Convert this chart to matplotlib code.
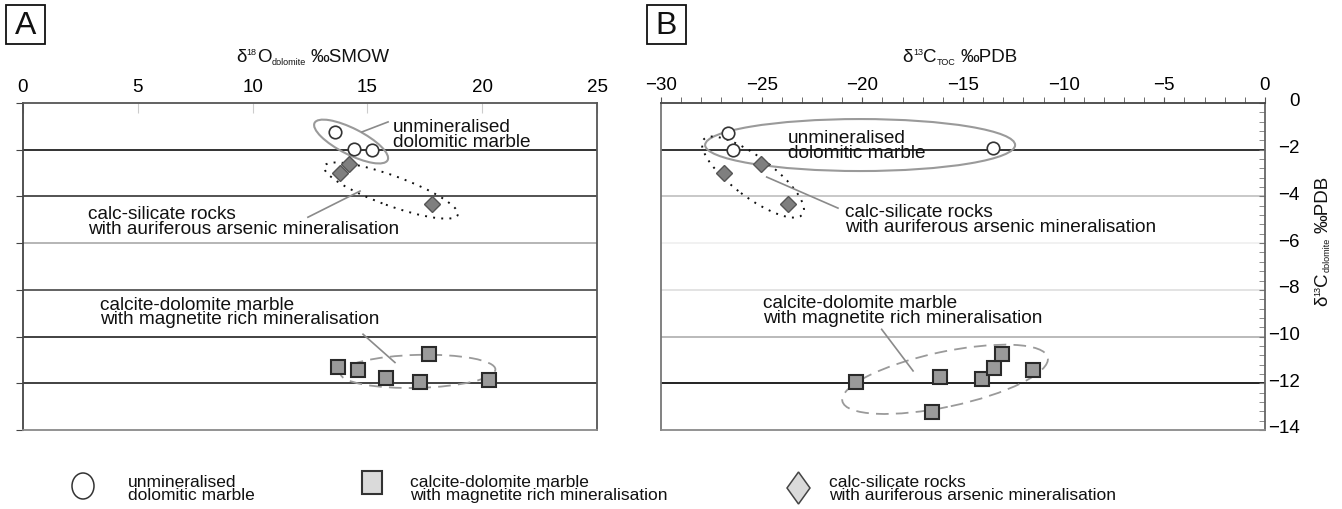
import matplotlib
matplotlib.use('Agg')
import matplotlib.pyplot as plt
from matplotlib.patches import Ellipse, Rectangle, Polygon
from matplotlib.transforms import ScaledTranslation
from matplotlib.ticker import MultipleLocator

plt.rcParams['font.family'] = ['Liberation Sans', 'DejaVu Sans']

# unmineralised dolomitic marble
unm_d18o = [13.6, 14.4, 15.2]
unm_d13c_toc = [-26.66, -26.44, -13.53]
unm_d13c_dol_a = [-1.26, -1.97, -2.02]
unm_d13c_dol_b = [-1.29, -2.02, -1.93]

# calc-silicate rocks with auriferous arsenic mineralisation
cs_d18o = [14.22, 13.79, 17.82]
cs_d13c_toc = [-25.05, -26.86, -23.68]
cs_d13c_dol = [-2.62, -3.0, -4.33]

# calcite-dolomite marble with magnetite rich mineralisation
mag_d18o = [13.70, 14.60, 15.79, 17.70, 17.31, 20.30]
mag_d13c_dol_a = [-11.32, -11.45, -11.76, -10.74, -11.96, -11.86]
mag_d13c_toc = [-20.33, -16.14, -14.05, -13.44, -13.04, -11.53, -16.54]
mag_d13c_dol_b = [-11.94, -11.73, -11.83, -11.33, -10.73, -11.43, -13.23]

grid_levels = [-2, -4, -6, -8, -10, -12]
grid_colors_a = ['#222222', '#444444', '#b0b0b0', '#555555', '#333333', '#333333']
grid_colors_b = ['#222222', '#c4c4c4', '#f0f0f0', '#e0e0e0', '#b4b4b4', '#111111']

lbl_unm = 'unmineralised\ndolomitic marble'
lbl_cs = 'calc-silicate rocks\nwith auriferous arsenic mineralisation'
lbl_mag = 'calcite-dolomite marble\nwith magnetite rich mineralisation'

fig = plt.figure(figsize=(13.42, 5.10), dpi=100)
W, H = 1342, 510
renderer = fig.canvas.get_renderer()


def px_axes(l, t, r, b):
    return fig.add_axes([l / W, 1 - b / H, (r - l) / W, (b - t) / H])


def ring(ax, x, y, w, h, ang, **kw):
    # ellipse sized in pixels, centred on a data point
    tr = fig.dpi_scale_trans + ScaledTranslation(x, y, ax.transData)
    ax.add_patch(Ellipse((0, 0), w / 100, h / 100, angle=ang, transform=tr,
                         fill=False, zorder=2, **kw))


def points(ax, xs, ys, kind):
    if kind == 'o':
        ax.plot(xs, ys, 'o', ms=9.0, mfc='white', mec='#333333', mew=1.2, zorder=4)
    elif kind == 's':
        ax.plot(xs, ys, 's', ms=9.4, mfc='#9a9a9a', mec='#2a2a2a', mew=1.5, zorder=4)
    else:
        ax.plot(xs, ys, 'D', ms=8.2, mfc='#7f7f7f', mec='#555555', mew=1.0, zorder=4)


def rich(x, y, parts, rot=0):
    """Axis title built from pieces (text, size, rise); a bare number is a gap in px.
    x, y: pixel centre of the run (baseline position across the run)."""
    sizes = []
    for p in parts:
        if isinstance(p, (int, float)):
            sizes.append(p)
        else:
            t = fig.text(0, 0, p[0], fontsize=p[1])
            sizes.append(t.get_window_extent(renderer=renderer).width)
            t.remove()
    pos = -sum(sizes) / 2
    for p, w in zip(parts, sizes):
        if not isinstance(p, (int, float)):
            s, fs, rise = p
            if rot == 0:
                fx, fy = x + pos, y - rise
            else:
                fx, fy = x - rise, y - pos
            fig.text(fx / W, 1 - fy / H, s, fontsize=fs, rotation=rot,
                     rotation_mode='anchor', ha='left', va='baseline', color='#111111')
        pos += w


solid = dict(color='#9a9a9a', lw=1.5)
dotted = dict(color='#111111', lw=1.4, ls=(0, (1, 3.2)))
dashed = dict(color='#9a9a9a', lw=1.3, ls=(0, (7, 4)))
lead = dict(color='#8a8a8a', lw=1.2, zorder=3)
txt = dict(fontsize=13.7, va='center', ha='left', linespacing=0.82, color='#111111')

# ---- panel A: d13C dolomite vs d18O dolomite
axA = px_axes(23, 104, 597, 431)
axA.set_xlim(0, 25)
axA.set_ylim(-14, 0)
for lev, c in zip(grid_levels, grid_colors_a):
    axA.axhline(lev, color=c, lw=1.3, zorder=1)
axA.xaxis.tick_top()
axA.xaxis.set_major_locator(MultipleLocator(5))
axA.tick_params(axis='x', direction='in', length=7, color='#cccccc',
                labelsize=13.5, pad=5.5)
axA.yaxis.set_major_locator(MultipleLocator(2))
axA.tick_params(axis='y', direction='out', length=5, color='#444444',
                labelleft=False)
for side, c in zip(['top', 'bottom', 'left', 'right'],
                   ['#555555', '#8a8a8a', '#444444', '#555555']):
    axA.spines[side].set_color(c)
    axA.spines[side].set_linewidth(1.3)

ring(axA, 14.29, -1.65, 82, 26, -27, **solid)
ring(axA, 16.03, -3.75, 142, 30, -20, **dotted)
ring(axA, 17.20, -11.49, 155, 33, 1.5, **dashed)
points(axA, unm_d18o, unm_d13c_dol_a, 'o')
points(axA, cs_d18o, cs_d13c_dol, 'D')
points(axA, mag_d18o, mag_d13c_dol_a, 's')

axA.plot([14.76, 15.90], [-1.24, -0.81], **lead)
axA.plot([14.68, 12.41], [-3.77, -4.89], **lead)
axA.plot([14.81, 16.20], [-9.90, -11.11], **lead)
axA.text(16.11, -1.33, lbl_unm, **txt)
axA.text(2.83, -5.06, lbl_cs, **txt)
axA.text(3.35, -8.92, lbl_mag, **txt)

# ---- panel B: d13C dolomite vs d13C TOC
axB = px_axes(661, 104, 1265, 431)
axB.set_xlim(-30, 0)
axB.set_ylim(-14, 0)
for lev, c in zip(grid_levels, grid_colors_b):
    axB.axhline(lev, color=c, lw=1.3, zorder=1)
axB.xaxis.tick_top()
axB.xaxis.set_major_locator(MultipleLocator(5))
axB.xaxis.set_minor_locator(MultipleLocator(1))
axB.tick_params(axis='x', which='both', direction='out', length=4,
                color='#555555', labelsize=13.5, pad=3)
axB.yaxis.tick_right()
axB.yaxis.set_major_locator(MultipleLocator(2))
axB.yaxis.set_minor_locator(MultipleLocator(0.4))
axB.tick_params(axis='y', which='both', direction='in', length=4,
                color='#777777', labelsize=13.5, pad=25)
lift = ScaledTranslation(0, 4 / 100, fig.dpi_scale_trans)
for lab in axB.get_yticklabels():
    lab.set_horizontalalignment('right')
    lab.set_transform(lab.get_transform() + lift)
for side, c in zip(['top', 'bottom', 'left', 'right'],
                   ['#444444', '#8a8a8a', '#777777', '#666666']):
    axB.spines[side].set_color(c)
    axB.spines[side].set_linewidth(1.3)

ring(axB, -20.11, -1.80, 310, 52, 0, **solid)
ring(axB, -25.43, -3.17, 124, 40, -37, **dotted)
ring(axB, -15.89, -11.83, 210, 55, 12, **dashed)
points(axB, unm_d13c_toc, unm_d13c_dol_b, 'o')
points(axB, cs_d13c_toc, cs_d13c_dol, 'D')
points(axB, mag_d13c_toc, mag_d13c_dol_b, 's')

axB.plot([-24.75, -21.21], [-3.17, -4.50], **lead)
axB.plot([-19.04, -17.48], [-9.69, -11.47], **lead)
axB.text(-23.69, -1.80, lbl_unm, **txt)
axB.text(-20.86, -4.97, lbl_cs, **txt)
axB.text(-24.93, -8.87, lbl_mag, **txt)

# axis titles with small raised / lowered parts
rich(313, 62, [('δ', 13.5, 0), ('18', 6.5, 7), ('O', 13.5, 0), ('dolomite', 6.5, -3),
               5, ('‰SMOW', 13.5, 0)])
rich(960, 62, [('δ', 13.5, 0), ('13', 6.5, 7), ('C', 13.5, 0), ('TOC', 6.5, -3),
               5, ('‰PDB', 13.5, 0)])
rich(1327, 241, [('δ', 13.5, 0), ('13', 6.5, 7), ('C', 13.5, 0), ('dolomite', 6.5, -3),
                 5, ('‰PDB', 13.5, 0)], rot=90)

# ---- panel letters and key along the bottom
key = fig.add_axes([0, 0, 1, 1], zorder=-1)
key.set_xlim(0, W)
key.set_ylim(H, 0)
key.axis('off')
for letter, x0 in [('A', 6), ('B', 647)]:
    key.add_patch(Rectangle((x0, 6), 39, 39, fc='white', ec='#111111', lw=1.3))
    key.text(x0 + 19.5, 26, letter, fontsize=23, ha='center', va='center',
             color='#111111')

key.add_patch(Ellipse((83, 487), 22, 26, fc='white', ec='#333333', lw=1.1))
key.add_patch(Rectangle((362, 472), 20, 23, fc='#dadada', ec='#333333', lw=1.5))
key.add_patch(Polygon([(798.5, 473), (810, 489), (798.5, 505), (787, 489)],
                      closed=True, fc='#dadada', ec='#444444', lw=1.1))
ktxt = dict(fontsize=12.5, va='center', ha='left', linespacing=0.82, color='#111111')
key.text(128, 489, lbl_unm, **ktxt)
key.text(410, 489, lbl_mag, **ktxt)
key.text(829, 489, lbl_cs, **ktxt)

fig.savefig('out.png', dpi=100, facecolor='white')
plt.close('all')
